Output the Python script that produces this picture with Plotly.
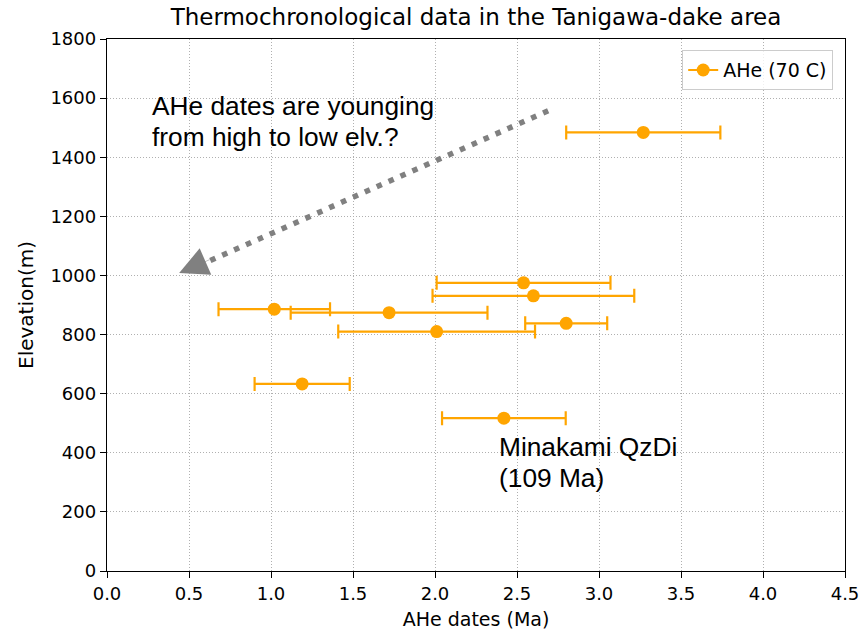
import plotly.graph_objects as go

# AHe (70 C) dates and elevations
ahe_date = [3.27, 2.54, 2.60, 1.02, 1.72, 2.80, 2.01, 1.19, 2.42]
ahe_err = [0.47, 0.53, 0.615, 0.34, 0.60, 0.25, 0.60, 0.29, 0.377]
elevation = [1484, 975, 931, 886, 874, 838, 810, 633, 517]

x_ticks = [0.0, 0.5, 1.0, 1.5, 2.0, 2.5, 3.0, 3.5, 4.0, 4.5]
y_ticks = [0, 200, 400, 600, 800, 1000, 1200, 1400, 1600, 1800]

# trend arrow (data coordinates): tail, end of the dotted body, and tip
arrow_tail = (2.69, 1557)
arrow_body_end = (0.62, 1048)
arrow_tip = (0.44, 1008)

# two-line notes: (x, y of each line's centre, text)
trend_note = (0.262, [1572, 1468], ["AHe dates are younging", "from high to low elv.?"])
pluton_note = (2.38, [421, 316], ["Minakami QzDi", "(109 Ma)"])

orange = "#FFA500"
gray = "#808080"
tick_font = dict(family="DejaVu Sans", size=18, color="#000000")
note_font = dict(family="Liberation Sans", size=26.3, color="#000000")

fig = go.Figure()

fig.add_trace(go.Scatter(
    x=ahe_date, y=elevation, mode="markers", name="AHe (70 C)",
    marker=dict(color=orange, size=13),
    error_x=dict(type="data", array=ahe_err, color=orange, thickness=2.2, width=7),
    showlegend=False,
))
# legend entry: dot with a horizontal bar, like the error-bar markers
fig.add_trace(go.Scatter(
    x=[None], y=[None], mode="lines+markers", name="AHe (70 C)",
    marker=dict(color=orange, size=13),
    line=dict(color=orange, width=2.2),
    showlegend=True,
))

# dotted trend line
fig.add_shape(type="line", xref="x", yref="y",
              x0=arrow_tail[0], y0=arrow_tail[1],
              x1=arrow_body_end[0], y1=arrow_body_end[1],
              line=dict(color=gray, width=5.5, dash="5.5px,7.5px"))
# triangular head at the tip of the trend line
fig.add_annotation(x=arrow_tip[0], y=arrow_tip[1], xref="x", yref="y",
                   ax=32, ay=-14.1, axref="pixel", ayref="pixel",
                   showarrow=True, arrowhead=2, arrowwidth=0.5, arrowsize=11.5,
                   arrowcolor=gray, text="")

for note_x, line_ys, lines in (trend_note, pluton_note):
    for line_y, line_text in zip(line_ys, lines):
        fig.add_annotation(x=note_x, y=line_y, xref="x", yref="y",
                           xanchor="left", yanchor="middle", showarrow=False,
                           text=line_text, font=note_font)

axis_common = dict(
    showline=True, linecolor="#000000", linewidth=1.4, mirror=True,
    ticks="outside", ticklen=6, tickwidth=1.4, tickcolor="#000000",
    showgrid=True, gridcolor="#b0b0b0", gridwidth=1, griddash="1px,2px",
    zeroline=False, tickfont=tick_font, automargin=False,
)

fig.update_xaxes(range=[0, 4.5], tickvals=x_ticks,
                 ticktext=[f"{v:.1f}" for v in x_ticks],
                 title=dict(text="AHe dates (Ma)", standoff=10,
                            font=dict(family="DejaVu Sans", size=19, color="#000000")),
                 **axis_common)
fig.update_yaxes(range=[0, 1800], tickvals=y_ticks,
                 ticktext=[str(v) for v in y_ticks],
                 title=dict(text="Elevation(m)", standoff=11,
                            font=dict(family="DejaVu Sans", size=20, color="#000000")),
                 **axis_common)

fig.update_layout(
    width=865, height=630,
    margin=dict(l=107, r=20, t=39, b=59),
    paper_bgcolor="#ffffff", plot_bgcolor="#ffffff",
    title=dict(text="Thermochronological data in the Tanigawa-dake area",
               x=0.5, xref="paper", xanchor="center",
               y=1, yref="container", yanchor="top", pad=dict(t=9),
               font=dict(family="DejaVu Sans", size=23, color="#000000")),
    legend=dict(x=0.984, y=0.979, xanchor="right", yanchor="top",
                bgcolor="rgba(255,255,255,0.8)", bordercolor="#cccccc",
                borderwidth=1, font=dict(family="DejaVu Sans", size=19, color="#000000"),
                itemwidth=30),
)

fig.write_html("out.html")
